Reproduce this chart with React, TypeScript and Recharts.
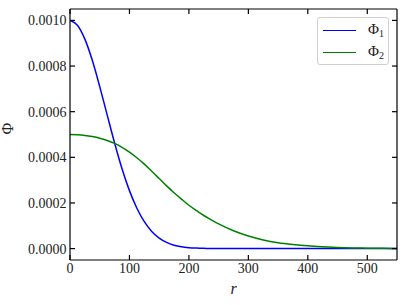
import React from 'react';
import { LineChart, Line, XAxis, YAxis, Legend } from 'recharts';

const rValues = [0, 12.5, 25, 37.5, 50, 62.5, 75, 87.5, 100, 112.5, 125, 137.5, 150, 162.5, 175, 187.5, 200, 212.5, 225, 237.5, 250, 275, 300, 325, 350, 375, 400, 425, 450, 475, 500, 525, 550];
const phi1Values = [0.001, 0.000979, 0.000918, 0.000825, 0.00071, 0.000586, 0.000463, 0.00035, 0.000254, 0.000177, 0.000118, 0.000075, 0.000046, 0.000027, 0.000015, 0.0000081, 0.0000042, 0.0000021, 0.000001, 0.0000005, 0.0000002, 0, 0, 0, 0, 0, 0, 0, 0, 0, 0, 0, 0];
const phi2Values = [0.0005, 0.000499, 0.000496, 0.000491, 0.000484, 0.000474, 0.000461, 0.000444, 0.000423, 0.000398, 0.00037, 0.000339, 0.000307, 0.000275, 0.000245, 0.000217, 0.00019, 0.000167, 0.000145, 0.000126, 0.000108, 0.000078, 0.000055, 0.000038, 0.000026, 0.000018, 0.000012, 0.000008, 0.000005, 0.000003, 0.000002, 0.000001, 0.0000005];
const xTicks = [0, 100, 200, 300, 400, 500];
const yTicks = [0, 0.0002, 0.0004, 0.0006, 0.0008, 0.001];
const seriesNames = ['1', '2'];

const data = rValues.map((r, i) => ({ r, phi1: phi1Values[i], phi2: phi2Values[i] }));

const FONT = "'Liberation Serif', 'Times New Roman', serif";
const TL = 5;

const BottomTick = (p: any) => (
  <g>
    <line x1={p.x} x2={p.x} y1={p.y} y2={p.y - TL} stroke="#000" strokeWidth={1.2} />
    <text x={p.x} y={p.y + 13} textAnchor="middle" style={{ fontFamily: FONT, fontSize: 14 }} fill="#222">{p.payload.value}</text>
  </g>
);
const TopTick = (p: any) => (
  <line x1={p.x} x2={p.x} y1={p.y} y2={p.y + TL} stroke="#000" strokeWidth={1.2} />
);
const LeftTick = (p: any) => (
  <g>
    <line x1={p.x} x2={p.x + TL} y1={p.y} y2={p.y} stroke="#000" strokeWidth={1.2} />
    <text x={p.x - 3.5} y={p.y + 5} textAnchor="end" style={{ fontFamily: FONT, fontSize: 14 }} fill="#222">{Number(p.payload.value).toFixed(4)}</text>
  </g>
);
const RightTick = (p: any) => (
  <line x1={p.x} x2={p.x - TL} y1={p.y} y2={p.y} stroke="#000" strokeWidth={1.2} />
);

const renderLegend = () => (
  <div style={{ width: 72, height: 48, border: '1px solid #d0d0d0', borderRadius: 3, background: 'rgba(255,255,255,0.8)', fontFamily: FONT, fontSize: 15, position: 'relative', boxSizing: 'border-box' }}>
    {seriesNames.map((n, i) => (
      <div key={n} style={{ position: 'absolute', left: 5, top: 4 + i * 22, height: 16, display: 'flex', alignItems: 'center' }}>
        <div style={{ width: 33, height: 0, borderTop: `1.5px solid ${i === 0 ? '#0000ff' : '#008000'}` }} />
        <span style={{ marginLeft: 12, color: '#222', whiteSpace: 'nowrap' }}>Φ<sub style={{ fontSize: 10, verticalAlign: -3 }}>{n}</sub></span>
      </div>
    ))}
  </div>
);

export default function App() {
  return (
    <div style={{ position: 'absolute', left: 0, top: 0, fontFamily: FONT }}>
      <LineChart width={407} height={305} data={data} margin={{ top: 0, right: 0, bottom: 0, left: 0 }}>
        <XAxis xAxisId="b" dataKey="r" type="number" domain={[0, 550]} ticks={xTicks} orientation="bottom" height={45}
          axisLine={{ stroke: '#000', strokeWidth: 1.2 }} tickLine={false} tickSize={0} tickMargin={0} tick={BottomTick} interval={0} allowDataOverflow
          label={{ value: 'r', position: 'insideBottom', offset: 11, style: { fontFamily: FONT, fontSize: 16, fontStyle: 'italic' }, fill: '#222' }} />
        <XAxis xAxisId="t" dataKey="r" type="number" domain={[0, 550]} ticks={xTicks} orientation="top" height={9}
          axisLine={{ stroke: '#000', strokeWidth: 1.2 }} tickLine={false} tickSize={0} tickMargin={0} tick={TopTick} interval={0} allowDataOverflow />
        <YAxis yAxisId="l" type="number" domain={[-0.00005, 0.00105]} ticks={yTicks} orientation="left" width={70}
          axisLine={{ stroke: '#000', strokeWidth: 1.2 }} tickLine={false} tickSize={0} tickMargin={0} tick={LeftTick} interval={0} allowDataOverflow
          label={{ value: 'Φ', angle: -90, position: 'insideLeft', offset: 7, style: { fontFamily: FONT, fontSize: 16 }, fill: '#222' }} />
        <YAxis yAxisId="r" type="number" domain={[-0.00005, 0.00105]} ticks={yTicks} orientation="right" width={10}
          axisLine={{ stroke: '#000', strokeWidth: 1.2 }} tickLine={false} tickSize={0} tickMargin={0} tick={RightTick} interval={0} allowDataOverflow />
        <Legend content={renderLegend} layout="horizontal" verticalAlign="middle" align="center" wrapperStyle={{ position: 'absolute', left: 317, top: 17, width: 72, height: 48 }} />
        <Line xAxisId="b" yAxisId="l" type="monotone" dataKey="phi1" stroke="#0000ff" strokeWidth={1.5} dot={false} isAnimationActive={false} />
        <Line xAxisId="b" yAxisId="l" type="monotone" dataKey="phi2" stroke="#008000" strokeWidth={1.5} dot={false} isAnimationActive={false} />
        <Line xAxisId="t" yAxisId="r" type="monotone" dataKey="phi1" stroke="none" dot={false} legendType="none" isAnimationActive={false} />
      </LineChart>
    </div>
  );
}
